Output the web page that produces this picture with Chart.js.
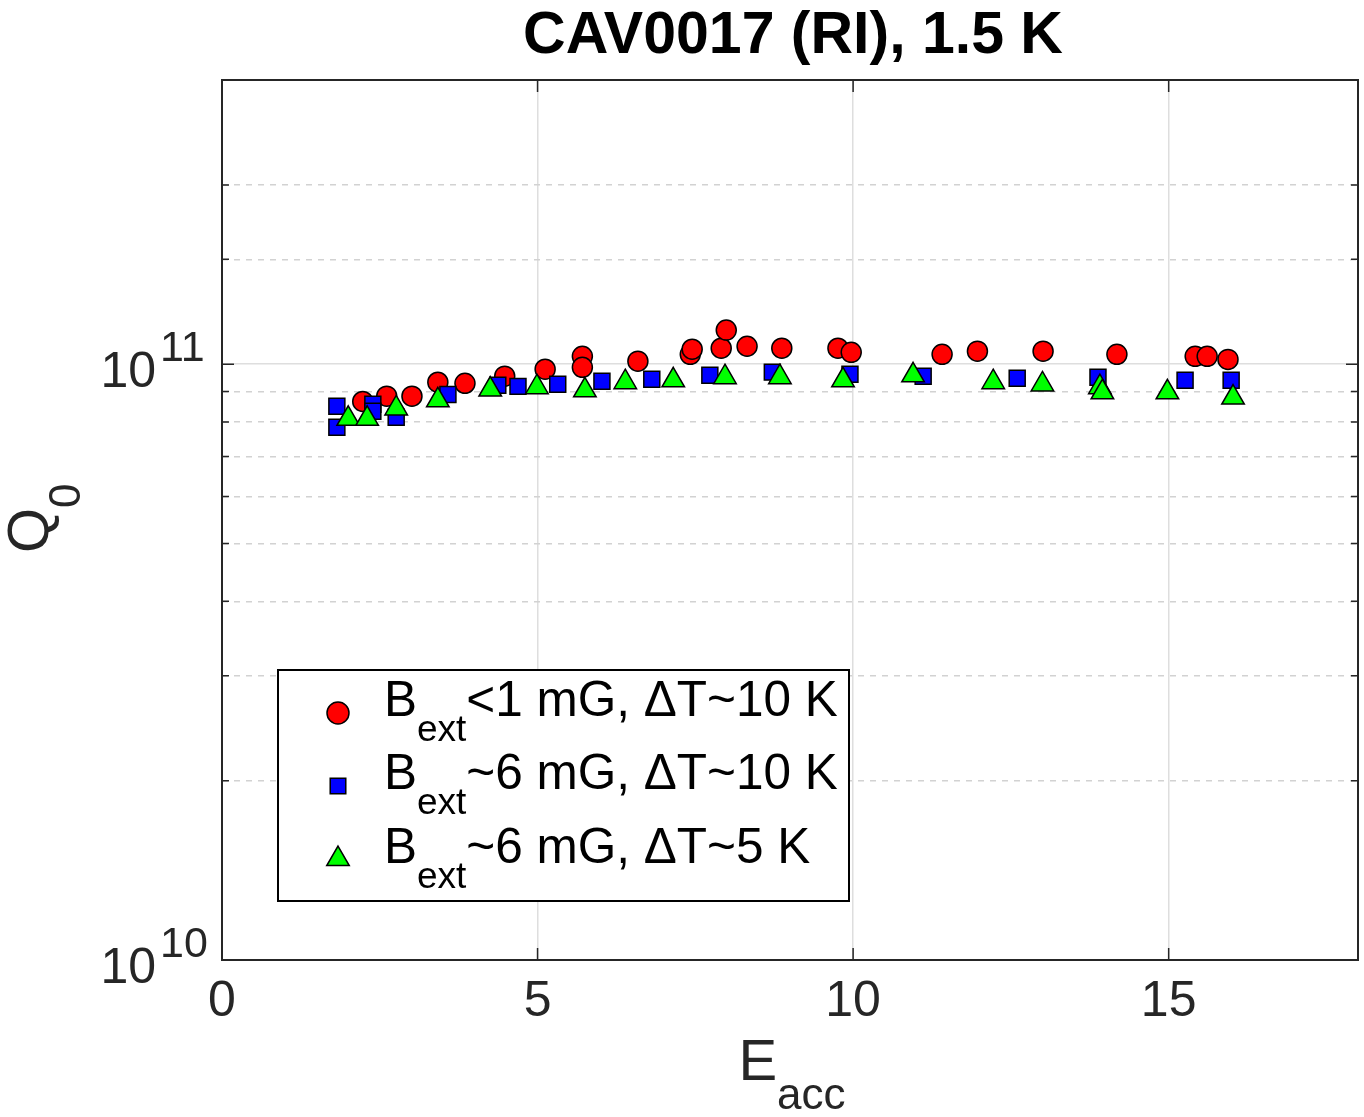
<!DOCTYPE html>
<html>
<head>
<meta charset="utf-8">
<title>CAV0017 (RI), 1.5 K</title>
<script src="https://cdn.jsdelivr.net/npm/chart.js@4/dist/chart.umd.min.js"></script>
<style>
  html, body { margin: 0; padding: 0; background: #fff; overflow: hidden; }
  canvas { display: block; }
</style>
</head>
<body>
<canvas id="q0Chart" width="1364" height="1117"></canvas>
<script>
// Q0 vs Eacc at 1.5 K for three cooldown conditions
const FONT = '"Liberation Sans", Arial, Helvetica, sans-serif';

// B_ext < 1 mG, dT ~ 10 K
const eaccLow = [2.23, 2.61, 3.01, 3.42, 3.85, 4.48, 5.12, 5.71, 5.71, 6.59, 7.42, 7.45, 7.91,
                 7.99, 8.32, 8.87, 9.76, 9.97, 11.41, 11.97, 13.01, 14.18, 15.42, 15.61, 15.94];
const q0Low = [8.66e10, 8.84e10, 8.84e10, 9.33e10, 9.29e10, 9.55e10, 9.81e10, 10.31e10, 9.88e10,
               10.12e10, 10.39e10, 10.6e10, 10.64e10, 11.41e10, 10.72e10, 10.64e10, 10.64e10,
               10.47e10, 10.39e10, 10.52e10, 10.52e10, 10.39e10, 10.31e10, 10.31e10, 10.19e10];

// B_ext ~ 6 mG, dT ~ 10 K
const eaccMid = [1.82, 1.82, 2.39, 2.39, 2.76, 3.58, 4.37, 4.69, 5.32, 6.02, 6.81, 7.73, 8.72,
                 9.95, 11.11, 12.60, 13.88, 15.26, 15.99];
const q0Mid = [8.50e10, 7.84e10, 8.57e10, 8.34e10, 8.15e10, 8.90e10, 9.22e10, 9.18e10, 9.26e10,
               9.36e10, 9.44e10, 9.58e10, 9.70e10, 9.62e10, 9.55e10, 9.47e10, 9.51e10, 9.40e10, 9.40e10];

// B_ext ~ 6 mG, dT ~ 5 K
const eaccSlow = [2.00, 2.30, 2.76, 3.42, 4.25, 4.99, 5.75, 6.39, 7.15, 7.97, 8.84, 9.84, 10.95,
                  12.22, 13.00, 13.91, 13.95, 14.98, 16.02];
const q0Slow = [8.10e10, 8.10e10, 8.43e10, 8.70e10, 9.07e10, 9.15e10, 9.04e10, 9.33e10, 9.40e10,
                9.51e10, 9.51e10, 9.40e10, 9.58e10, 9.33e10, 9.25e10, 9.15e10, 8.97e10, 8.97e10, 8.79e10];

const xTicks = [0, 5, 10, 15];
const yDecades = [1e10, 1e11];

function toPoints(xs, ys) {
    return xs.map((x, i) => ({ x: x, y: ys[i] }));
}

function isDecade(v) {
    const l = Math.log10(v);
    return Math.abs(l - Math.round(l)) < 1e-6;
}

const seriesStyle = [
    { label: 'B_ext<1 mG, ΔT~10 K', sub: 'ext', rest: '<1 mG, ΔT~10 K', color: '#ff0000', shape: 'circle', radius: 10 },
    { label: 'B_ext~6 mG, ΔT~10 K', sub: 'ext', rest: '~6 mG, ΔT~10 K', color: '#0000ff', shape: 'rect', radius: 11.3 },
    { label: 'B_ext~6 mG, ΔT~5 K', sub: 'ext', rest: '~6 mG, ΔT~5 K', color: '#00ff00', shape: 'triangle', radius: 13 }
];

// draws title, axis labels with sub/superscripts, frame, tick marks and legend
const decorPlugin = {
    id: 'decor',
    afterDatasetsDraw(chart) {
        const ctx = chart.ctx;
        const area = chart.chartArea;
        const xs = chart.scales.x;
        const ys = chart.scales.y;
        ctx.save();

        // tick marks, inward on all four sides
        ctx.strokeStyle = '#262626';
        ctx.lineWidth = 1.5;
        ctx.beginPath();
        xTicks.forEach(v => {
            const px = xs.getPixelForValue(v);
            ctx.moveTo(px, area.bottom); ctx.lineTo(px, area.bottom - 12);
            ctx.moveTo(px, area.top); ctx.lineTo(px, area.top + 12);
        });
        ys.ticks.forEach(t => {
            const py = ys.getPixelForValue(t.value);
            const len = isDecade(t.value) ? 12 : 7;
            ctx.moveTo(area.left, py); ctx.lineTo(area.left + len, py);
            ctx.moveTo(area.right, py); ctx.lineTo(area.right - len, py);
        });
        ctx.stroke();

        // frame
        ctx.strokeStyle = '#262626';
        ctx.lineWidth = 2;
        ctx.strokeRect(area.left, area.top, area.right - area.left, area.bottom - area.top);

        // y tick labels 10^n
        ctx.fillStyle = '#262626';
        ctx.textBaseline = 'alphabetic';
        yDecades.forEach(v => {
            const py = ys.getPixelForValue(v);
            ctx.font = '50px ' + FONT;
            ctx.textAlign = 'right';
            ctx.fillText('10', 156, py + 23);
            ctx.font = '43px ' + FONT;
            ctx.textAlign = 'left';
            ctx.fillText(String(Math.round(Math.log10(v))), 160, py - 3);
        });

        // title
        ctx.fillStyle = '#000';
        ctx.textAlign = 'center';
        ctx.font = 'bold 59px ' + FONT;
        ctx.fillText('CAV0017 (RI), 1.5 K', (area.left + area.right) / 2 + 3, 53);

        // x axis label E_acc
        ctx.fillStyle = '#262626';
        ctx.font = '58px ' + FONT;
        const wE = ctx.measureText('E').width;
        ctx.font = '44px ' + FONT;
        const wAcc = ctx.measureText('acc').width;
        let x0 = (area.left + area.right) / 2 - (wE + wAcc) / 2 + 2;
        ctx.textAlign = 'left';
        ctx.font = '58px ' + FONT;
        ctx.fillText('E', x0, 1080);
        ctx.font = '44px ' + FONT;
        ctx.fillText('acc', x0 + wE, 1109);

        // y axis label Q_0, rotated
        ctx.save();
        ctx.translate(48, 553);
        ctx.rotate(-Math.PI / 2);
        ctx.font = '58px ' + FONT;
        const wQ = ctx.measureText('Q').width;
        ctx.fillText('Q', 0, 0);
        ctx.font = '44px ' + FONT;
        ctx.fillText('0', wQ, 32);
        ctx.restore();

        // legend box
        const box = { l: 278, t: 670, r: 849, b: 901 };
        ctx.fillStyle = '#fff';
        ctx.fillRect(box.l, box.t, box.r - box.l, box.b - box.t);
        ctx.strokeStyle = '#000';
        ctx.lineWidth = 2;
        ctx.strokeRect(box.l, box.t, box.r - box.l, box.b - box.t);

        const rowMarkerY = [713, 786, 859];
        const rowBase = [716, 789, 863];
        seriesStyle.forEach((s, i) => {
            drawMarker(ctx, s.shape, 338, rowMarkerY[i], s.shape === 'triangle' ? 13 : 11, s.color);
            ctx.fillStyle = '#000';
            ctx.textAlign = 'left';
            ctx.font = '49.5px ' + FONT;
            ctx.fillText('B', 384, rowBase[i]);
            const wB = ctx.measureText('B').width;
            ctx.font = '37px ' + FONT;
            ctx.fillText(s.sub, 384 + wB, rowBase[i] + 25);
            const wSub = ctx.measureText(s.sub).width;
            ctx.font = '49.5px ' + FONT;
            ctx.fillText(s.rest, 384 + wB + wSub, rowBase[i]);
        });

        ctx.restore();
    }
};

function drawMarker(ctx, shape, x, y, r, color) {
    ctx.save();
    ctx.fillStyle = color;
    ctx.strokeStyle = '#000';
    ctx.lineWidth = 1.5;
    ctx.beginPath();
    if (shape === 'circle') {
        ctx.arc(x, y, r, 0, Math.PI * 2);
    } else if (shape === 'rect') {
        const h = r * Math.SQRT1_2;
        ctx.rect(x - h, y - h, 2 * h, 2 * h);
    } else {
        ctx.moveTo(x, y - r);
        ctx.lineTo(x + r * Math.sin(Math.PI * 2 / 3), y + r / 2);
        ctx.lineTo(x - r * Math.sin(Math.PI * 2 / 3), y + r / 2);
        ctx.closePath();
    }
    ctx.fill();
    ctx.stroke();
    ctx.restore();
}

const pointSets = [toPoints(eaccLow, q0Low), toPoints(eaccMid, q0Mid), toPoints(eaccSlow, q0Slow)];

new Chart(document.getElementById('q0Chart'), {
    type: 'scatter',
    data: {
        datasets: seriesStyle.map((s, i) => ({
            label: s.label,
            data: pointSets[i],
            pointStyle: s.shape,
            pointRadius: s.radius,
            pointHoverRadius: s.radius,
            backgroundColor: s.color,
            borderColor: '#000',
            borderWidth: 1.5,
            order: 3 - i
        }))
    },
    options: {
        responsive: false,
        animation: false,
        devicePixelRatio: 1,
        layout: { autoPadding: false, padding: { top: 80, right: 6, left: 0, bottom: 0 } },
        plugins: {
            legend: { display: false },
            title: { display: false },
            tooltip: { enabled: false }
        },
        scales: {
            x: {
                type: 'linear',
                min: 0,
                max: 18,
                afterFit: function(scale) {
                    scale.height = 157;
                    scale.paddingLeft = 0;
                    scale.paddingRight = 0;
                },
                ticks: {
                    stepSize: 5,
                    includeBounds: false,
                    maxRotation: 0,
                    padding: 12,
                    color: '#262626',
                    font: { family: FONT, size: 50 }
                },
                grid: { color: '#dedede', lineWidth: 1.5, drawTicks: false },
                border: { display: false }
            },
            y: {
                type: 'logarithmic',
                min: 1e10,
                max: 3e11,
                afterFit: function(scale) {
                    scale.width = 222;
                    scale.paddingTop = 0;
                    scale.paddingBottom = 0;
                },
                ticks: { display: false },
                grid: {
                    color: function(c) {
                        return c.tick && isDecade(c.tick.value) ? '#dedede' : '#d2d2d2';
                    },
                    lineWidth: 1.5,
                    drawTicks: false
                },
                border: {
                    display: false,
                    dash: function(c) {
                        return c.tick && !isDecade(c.tick.value) ? [6, 6] : [];
                    }
                }
            }
        }
    },
    plugins: [decorPlugin]
});
</script>
</body>
</html>
